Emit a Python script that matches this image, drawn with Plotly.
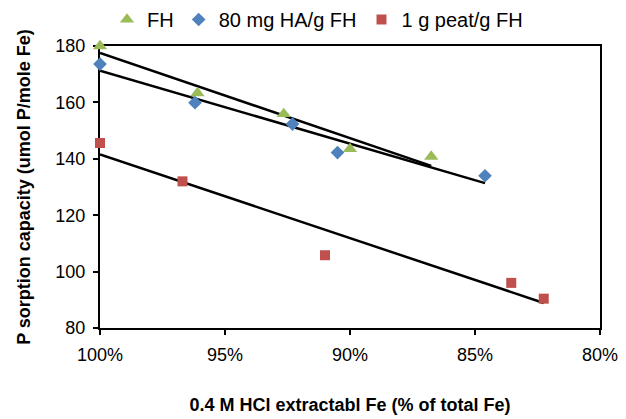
import numpy as np
import plotly.graph_objects as go

# 0.4 M HCl extractable Fe (% of total Fe) and P sorption capacity (umol P/mole Fe)
fh_x = [100.0, 96.1, 92.65, 90.0, 86.75]
fh_y = [180.0, 163.3, 155.9, 143.5, 140.8]

ha_x = [100.0, 96.2, 92.3, 90.5, 84.6]
ha_y = [173.6, 159.9, 152.3, 142.2, 134.0]

peat_x = [100.0, 96.7, 91.0, 83.55, 82.25]
peat_y = [145.6, 132.0, 105.8, 96.0, 90.4]

x_ticks = [100, 95, 90, 85, 80]
x_tick_labels = ["100%", "95%", "90%", "85%", "80%"]
y_ticks = [80, 100, 120, 140, 160, 180]

series = [
    ("FH", fh_x, fh_y, "#9BBB59", "triangle-up", 12.5),
    ("80 mg HA/g FH", ha_x, ha_y, "#4F81BD", "diamond", 10.5),
    ("1 g peat/g FH", peat_x, peat_y, "#C0504D", "square", 10),
]

fig = go.Figure()

# linear trendlines across each series' x-range
for name, xs, ys, color, sym, size in series:
    slope, intercept = np.polyfit(xs, ys, 1)
    x_end = np.array([max(xs), min(xs)])
    fig.add_trace(go.Scatter(
        x=x_end, y=slope * x_end + intercept, mode="lines",
        line=dict(color="black", width=2.5), showlegend=False,
        hoverinfo="skip", cliponaxis=False))

for name, xs, ys, color, sym, size in series:
    fig.add_trace(go.Scatter(
        x=xs, y=ys, mode="markers", name=name,
        marker=dict(color=color, symbol=sym, size=size, line=dict(width=0)),
        cliponaxis=False))

font = "Liberation Sans, Arial, sans-serif"
axis_style = dict(
    showgrid=False, zeroline=False, showline=True, mirror=True,
    linecolor="black", linewidth=2, ticks="outside", ticklen=5,
    tickwidth=2, tickcolor="black", tickfont=dict(size=18),
    ticklabelstandoff=4, automargin=False, layer="below traces",
)
fig.update_layout(
    width=626, height=419,
    margin=dict(l=100, r=26, t=46, b=91, autoexpand=False),
    paper_bgcolor="white", plot_bgcolor="white",
    font=dict(family=font, size=18, color="black"),
    legend=dict(orientation="h", x=0.014, xanchor="left",
                y=1.094, yanchor="middle",
                font=dict(size=20), itemwidth=30,
                tracegroupgap=0, bgcolor="rgba(0,0,0,0)"),
    xaxis=dict(
        range=[100, 80], tickvals=x_ticks, ticktext=x_tick_labels,
        title=dict(text="<b>0.4 M HCl extractabl Fe (% of total Fe)</b>",
                   font=dict(size=18), standoff=35),
        **axis_style),
    yaxis=dict(
        range=[80, 180], tickvals=y_ticks,
        title=dict(text="<b>P sorption capacity (umol P/mole Fe)</b>",
                   font=dict(size=18), standoff=20),
        **axis_style),
)

fig.write_html("out.html")
